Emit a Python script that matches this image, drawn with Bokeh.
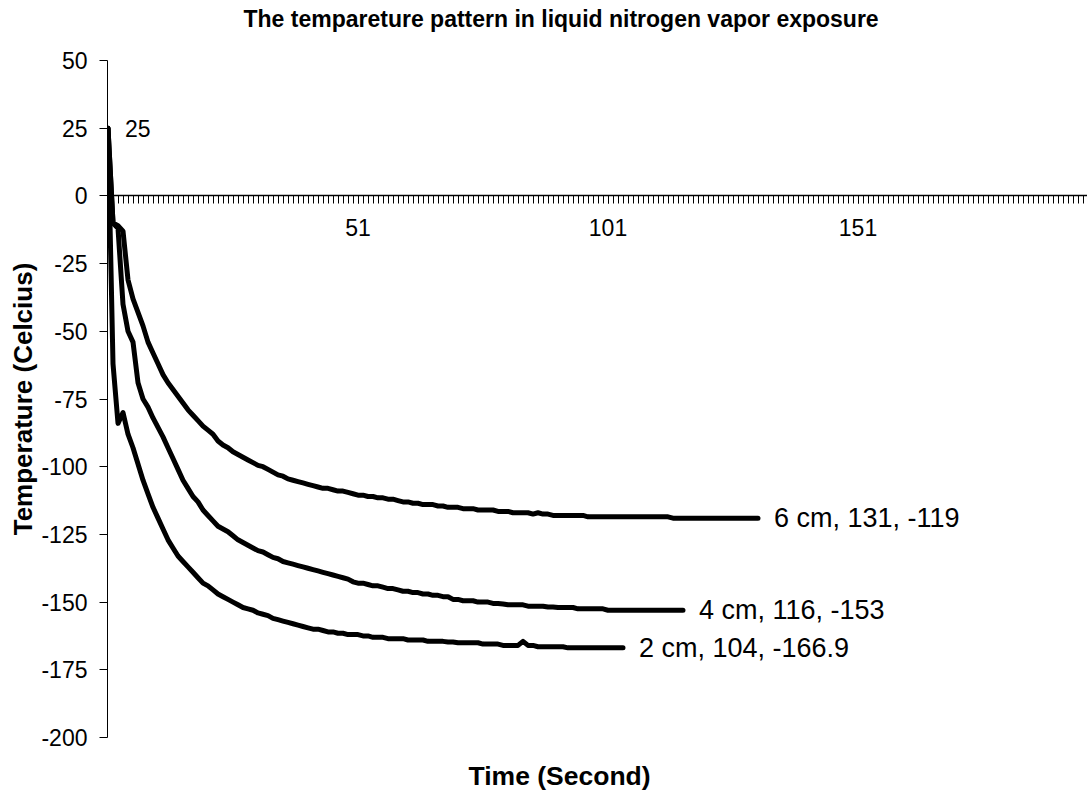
from bokeh.plotting import figure
from bokeh.models import Range1d, LinearAxis, FixedTicker, Title, ColumnDataSource, PrintfTickFormatter
from bokeh.core.properties import value
from bokeh.embed import file_html
from bokeh.resources import INLINE

title_text = "The tempareture pattern in liquid nitrogen vapor exposure"
x_title = "Time (Second)"
y_title = "Temperature (Celcius)"
y_ticks = [-200, -175, -150, -125, -100, -75, -50, -25, 0, 25, 50]
x_tick_labels = [51, 101, 151]
series_names = ["2 cm", "4 cm", "6 cm"]

temp_2cm = [25, -62, -84, -80, -88, -93, -99, -105, -110, -115,
            -119, -123, -127, -130, -133, -135, -137, -139, -141, -143,
            -144, -145.5, -147, -148, -149, -150, -151, -152, -152.5, -153,
            -154, -154.5, -155, -156, -156.5, -157, -157.5, -158, -158.5, -159,
            -159.5, -160, -160, -160.5, -161, -161, -161.5, -161.5, -162, -162,
            -162, -162.5, -162.5, -163, -163, -163, -163.5, -163.5, -163.5, -163.5,
            -164, -164, -164, -164, -164.5, -164.5, -164.5, -164.5, -164.7, -164.7,
            -165, -165, -165, -165, -165, -165.5, -165.5, -165.5, -165.5, -166,
            -166, -166, -166, -164.5, -166, -166, -166.5, -166.5, -166.5, -166.5,
            -166.5, -166.5, -166.9, -166.9, -166.9, -166.9, -166.9, -166.9, -166.9, -166.9,
            -166.9, -166.9, -166.9, -166.9]

temp_4cm = [25, -10, -12, -40, -50, -54, -69, -75, -78, -82,
            -85.5, -89, -93, -97, -101, -105, -108, -111, -113, -116,
            -118, -120, -122, -123, -124, -125.5, -127, -128, -129, -130,
            -131, -131.5, -132.5, -133.5, -134, -135, -135.5, -136, -136.5, -137,
            -137.5, -138, -138.5, -139, -139.5, -140, -140.5, -141, -141.5, -142.5,
            -143, -143, -143.5, -144, -144, -144.5, -145, -145, -145.5, -146,
            -146, -146.5, -146.5, -147, -147, -147.5, -147.5, -148, -148, -149,
            -149, -149.5, -149.5, -149.5, -150, -150, -150, -150.5, -150.5, -150.7,
            -151, -151, -151, -151, -151.5, -151.5, -151.5, -151.5, -151.8, -151.8,
            -152, -152, -152, -152, -152.5, -152.5, -152.5, -152.5, -152.5, -152.5,
            -153, -153, -153, -153, -153, -153, -153, -153, -153, -153,
            -153, -153, -153, -153, -153, -153]

temp_6cm = [25, -10, -11, -13, -31, -38, -43, -48, -54, -58,
            -62, -66, -69, -71.5, -74, -76.5, -79, -81, -83, -85,
            -86.5, -88, -90.5, -92, -93, -94.5, -95.5, -96.5, -97.5, -98.5,
            -99.5, -100, -101, -102, -103, -103.5, -104.5, -105, -105.5, -106,
            -106.5, -107, -107.5, -108, -108, -108.5, -109, -109, -109.5, -110,
            -110.5, -110.5, -111, -111, -111.5, -111.5, -112, -112, -112.5, -113,
            -113, -113.5, -113.5, -114, -114, -114, -114.5, -114.5, -115, -115,
            -115, -115.5, -115.5, -115.5, -116, -116, -116, -116, -116.5, -116.5,
            -116.5, -117, -117, -117, -117, -117.5, -117, -117.5, -117.5, -118,
            -118, -118, -118, -118, -118, -118, -118.5, -118.5, -118.5, -118.5,
            -118.5, -118.5, -118.5, -118.5, -118.5, -118.5, -118.5, -118.5, -118.5, -118.5,
            -118.5, -118.5, -118.5, -119, -119, -119, -119, -119, -119, -119,
            -119, -119, -119, -119, -119, -119, -119, -119, -119, -119, -119]

FONT = "Liberation Sans"
series = [temp_2cm, temp_4cm, temp_6cm]

p = figure(width=1087, height=790, output_backend="svg", toolbar_location=None,
           x_range=Range1d(0.9, 196.9), y_range=Range1d(-200, 50),
           x_axis_location=None, y_axis_location="left",
           min_border_left=107, min_border_right=0, min_border_top=60, min_border_bottom=53)
p.outline_line_color = None
p.grid.grid_line_color = None
p.background_fill_color = "white"
p.title.text = ""

# y axis
ya = p.yaxis[0]
ya.ticker = FixedTicker(ticks=y_ticks)
ya.formatter = PrintfTickFormatter(format="%d")
ya.major_tick_out = 8
ya.major_tick_in = 0
ya.minor_tick_out = 0
ya.minor_tick_in = 0
ya.axis_line_color = "black"
ya.major_tick_line_color = "black"
ya.major_label_text_font = FONT
ya.major_label_text_font_size = "23px"
ya.major_label_text_color = "black"
ya.major_label_standoff = 12
ya.axis_label = y_title
ya.axis_label_text_font = FONT
ya.axis_label_text_font_size = "26px"
ya.axis_label_text_font_style = "bold"
ya.axis_label_text_color = "black"
ya.axis_label_standoff = 0

# x axis at y = 0
xa = LinearAxis(fixed_location=0)
xa.ticker = FixedTicker(ticks=x_tick_labels, minor_ticks=list(range(1, 197)))
xa.formatter = PrintfTickFormatter(format="%d")
xa.major_tick_out = 8
xa.major_tick_in = 0
xa.minor_tick_out = 8
xa.minor_tick_in = 0
xa.axis_line_color = "black"
xa.axis_line_width = 1.5
xa.major_tick_line_color = "black"
xa.minor_tick_line_color = "black"
xa.major_label_text_font = FONT
xa.major_label_text_font_size = "23px"
xa.major_label_text_color = "black"
xa.major_label_standoff = 15
p.add_layout(xa, "below")

# chart title: spacer next to the frame, then the title text
p.add_layout(Title(text=" ", text_font_size="2px", standoff=22), "above")
p.add_layout(Title(text=title_text, align="left", offset=136, text_font=FONT,
                   text_font_size="23px", text_font_style="bold", text_color="black",
                   standoff=6), "above")

# x-axis title: spacer below the axis, then the title text
p.add_layout(Title(text=" ", text_font_size="2px", standoff=17), "below")
p.add_layout(Title(text=x_title, align="left", offset=361, text_font=FONT,
                   text_font_size="26.5px", text_font_style="bold", text_color="black",
                   standoff=0), "below")

# curves
for vals in series:
    xs = list(range(1, len(vals) + 1))
    p.line(xs, vals, line_width=5, line_color="black", line_join="round", line_cap="round")

# end labels
end_src = ColumnDataSource(dict(
    x=[len(v) for v in series],
    y=[v[-1] for v in series],
    label=[f"{n}, {len(v)}, {v[-1]:g}" for n, v in zip(series_names, series)],
))
p.text(x="x", y="y", text="label", source=end_src, x_offset=16, text_baseline="middle",
       text_font=value(FONT), text_font_size="27px", text_color="black")

start_src = ColumnDataSource(dict(x=[1], y=[temp_6cm[0]], label=[f"{temp_6cm[0]:g}"]))
p.text(x="x", y="y", text="label", source=start_src, x_offset=17, text_baseline="middle",
       text_font=value(FONT), text_font_size="23px", text_color="black")

open("out.html", "w").write(file_html(p, INLINE))
